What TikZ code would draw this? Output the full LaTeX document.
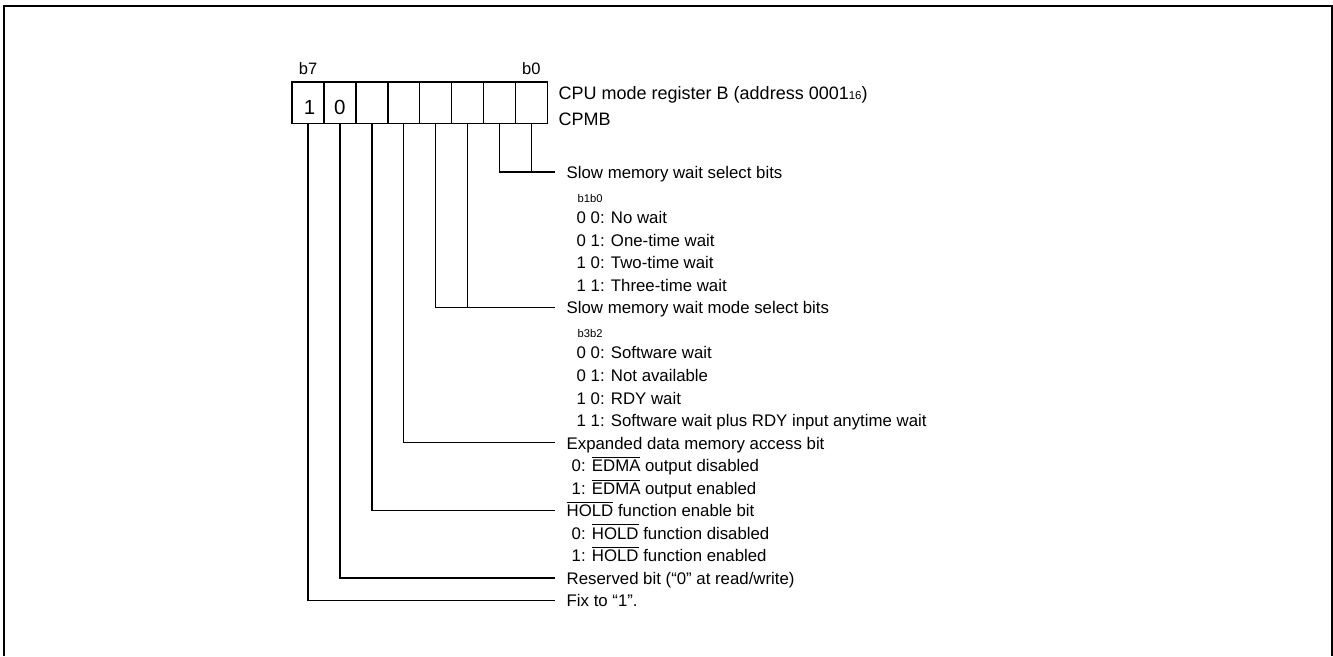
\documentclass[tikz,border=0pt]{standalone}
\usepackage{fontspec}
\setmainfont{Liberation Sans}
\newcommand\ovlbar[1]{\leavevmode\vbox{\hrule height 0.9pt\kern 2.2pt\hbox{#1}}}
\begin{document}
\begin{tikzpicture}[x=1pt,y=-1pt, line width=1.4pt,
  cellbox/.style={draw, line width=1.5pt, minimum width=31.9pt, minimum height=41.5pt, inner sep=0pt},
  digit/.style={inner sep=0pt, font=\fontsize{20.5}{24}\selectfont},
  lbl/.style={anchor=base west, inner sep=0pt, font=\fontsize{16.8}{20}\selectfont},
  hdr/.style={anchor=base west, inner sep=0pt, font=\fontsize{18}{22}\selectfont},
  smalllbl/.style={anchor=base west, inner sep=0pt, font=\fontsize{11.2}{13}\selectfont},
  bitlbl/.style={anchor=base, inner sep=0pt, font=\fontsize{16.5}{20}\selectfont},
  leader/.style={line width=1.4pt}]
\useasboundingbox (0,0) rectangle (1333,656);
% frame (open at the bottom)
\draw[line width=2pt] (4,656) -- (4,6) -- (1331.5,6) -- (1331.5,656);

% register cells
\node[cellbox] (c7) at (308.0,102.5) {};
\node[cellbox] (c6) at (339.9,102.5) {};
\node[cellbox] (c5) at (371.8,102.5) {};
\node[cellbox] (c4) at (403.7,102.5) {};
\node[cellbox] (c3) at (435.6,102.5) {};
\node[cellbox] (c2) at (467.5,102.5) {};
\node[cellbox] (c1) at (499.4,102.5) {};
\node[cellbox] (c0) at (531.3,102.5) {};
\node[digit] (d7) at (309.5,107.5) {1};
\node[digit] (d6) at (339.9,107.5) {0};

\node[bitlbl] (b7) at (308.0,74) {b7};
\node[bitlbl] (b0) at (531.3,74) {b0};

\node[hdr] (title) at (558,99) {CPU mode register B (address 0001{\fontsize{11.5}{13}\selectfont 16})};
\node[hdr] (cpmb) at (558,125) {CPMB};

% leader end points
\coordinate (e0) at (555,172);
\coordinate (e2) at (555,307.3);
\coordinate (e4) at (555,442.6);
\coordinate (e5) at (555,510.25);
\coordinate (e6) at (555,577.9);
\coordinate (e7) at (555,600.45);

\draw[leader] (c1.south) |- (e0);
\draw[leader] (c0.south) -- (c0.south |- e0);
\draw[leader] (c3.south) |- (e2);
\draw[leader] (c2.south) -- (c2.south |- e2);
\draw[leader] (c4.south) |- (e4);
\draw[leader] (c5.south) |- (e5);
\draw[leader] (c6.south) |- (e6);
\draw[leader] (c7.south) |- (e7);

% descriptions
\node[lbl] (t0) at (566,178.5) {Slow memory wait select bits};
\node[smalllbl] (t0s) at (577,202.5) {b1b0};
\node[lbl] (t0a) at (576,223.6) {0 0: No wait};
\node[lbl] (t0b) at (576,246.15) {0 1: One-time wait};
\node[lbl] (t0c) at (576,268.7) {1 0: Two-time wait};
\node[lbl] (t0d) at (576,291.25) {1 1: Three-time wait};

\node[lbl] (t2) at (566,313.8) {Slow memory wait mode select bits};
\node[smalllbl] (t2s) at (577,337.5) {b3b2};
\node[lbl] (t2a) at (576,358.9) {0 0: Software wait};
\node[lbl] (t2b) at (576,381.45) {0 1: Not available};
\node[lbl] (t2c) at (576,404) {1 0: RDY wait};
\node[lbl] (t2d) at (576,426.55) {1 1: Software wait plus RDY input anytime wait};

\node[lbl] (t4) at (566,449.1) {Expanded data memory access bit};
\node[lbl] (t4a) at (571,471.65) {0: \ovlbar{EDMA} output disabled};
\node[lbl] (t4b) at (571,494.2) {1: \ovlbar{EDMA} output enabled};

\node[lbl] (t5) at (566,516.75) {\ovlbar{HOLD} function enable bit};
\node[lbl] (t5a) at (571,539.3) {0: \ovlbar{HOLD} function disabled};
\node[lbl] (t5b) at (571,561.85) {1: \ovlbar{HOLD} function enabled};

\node[lbl] (t6) at (566,584.4) {Reserved bit (“0” at read/write)};
\node[lbl] (t7) at (566,606.95) {Fix to “1”.};
\end{tikzpicture}
\end{document}
